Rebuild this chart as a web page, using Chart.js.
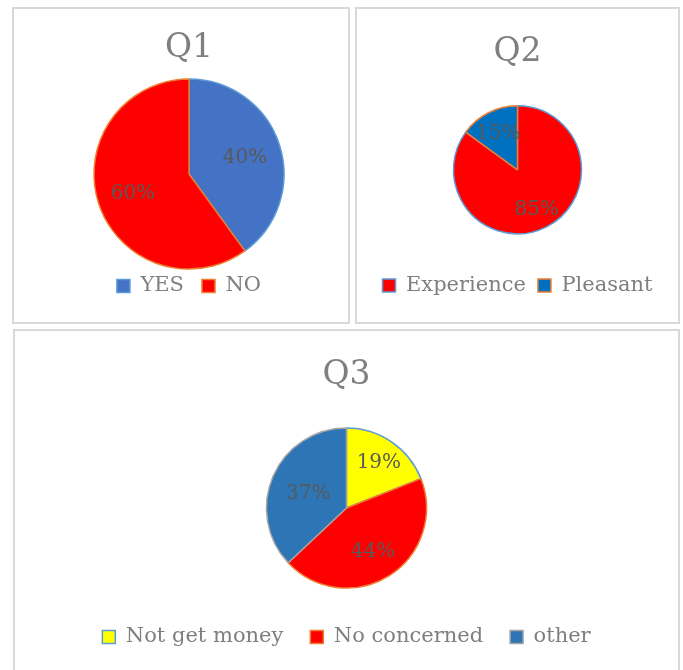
<!DOCTYPE html>
<html>
<head>
<meta charset="utf-8">
<script src="https://cdn.jsdelivr.net/npm/chart.js@4.4.1/dist/chart.umd.min.js"></script>
<style>
  html, body { margin: 0; padding: 0; background: #fff; overflow: hidden; }
  body { width: 683px; height: 670px; position: relative; }
  .box { position: absolute; box-sizing: border-box; border: 2px solid #d9d9d9; background: #fff; }
  .box canvas { position: absolute; left: 0; top: 0; }
</style>
</head>
<body>
<div class="box" style="left:12px; top:7px; width:338px; height:317px;">
  <canvas id="q1" width="334" height="313"></canvas>
</div>
<div class="box" style="left:355px; top:7px; width:325px; height:317px;">
  <canvas id="q2" width="321" height="313"></canvas>
</div>
<div class="box" style="left:13px; top:329px; width:667px; height:345px;">
  <canvas id="q3" width="663" height="339"></canvas>
</div>
<script>
// Q1
const q1Labels = ['YES', 'NO'];
const q1Values = [40, 60];
const q1Colors = ['#4472C4', '#FF0000'];
const q1Borders = ['#5B9BD5', '#ED7D31'];

// Q2
const q2Labels = ['Experience', 'Pleasant'];
const q2Values = [85, 15];
const q2Colors = ['#FF0000', '#0070C0'];
const q2Borders = ['#5B9BD5', '#ED7D31'];

// Q3
const q3Labels = ['Not get money', 'No concerned', 'other'];
const q3Values = [19, 44, 37];
const q3Colors = ['#FFFF00', '#FF0000', '#2E75B6'];
const q3Borders = ['#5B9BD5', '#ED7D31', '#A5A5A5'];

const serif = "'DejaVu Serif', 'Liberation Serif', serif";

// percentage labels inside the slices
const sliceLabels = {
    id: 'sliceLabels',
    afterDatasetsDraw(chart, args, opts) {
        const ctx = chart.ctx;
        const meta = chart.getDatasetMeta(0);
        const values = chart.data.datasets[0].data;
        ctx.save();
        ctx.font = '20px ' + serif;
        ctx.fillStyle = '#595959';
        ctx.textAlign = 'center';
        ctx.textBaseline = 'middle';
        meta.data.forEach((arc, i) => {
            const p = arc.getProps(['x', 'y', 'startAngle', 'endAngle', 'outerRadius']);
            const mid = (p.startAngle + p.endAngle) / 2;
            const f = Array.isArray(opts.pos) ? opts.pos[i] : opts.pos;
            const r = p.outerRadius * f;
            ctx.fillText(values[i] + '%', p.x + Math.cos(mid) * r, p.y + Math.sin(mid) * r + 2);
        });
        ctx.restore();
    }
};

function makePie(id, title, labels, values, colors, borders, s) {
    const ctx = document.getElementById(id).getContext('2d');
    return new Chart(ctx, {
        type: 'pie',
        data: {
            labels: labels,
            datasets: [{
                data: values,
                backgroundColor: colors,
                borderColor: borders,
                borderWidth: 1.5,
                radius: s.radius,
                clip: false
            }]
        },
        options: {
            responsive: false,
            animation: false,
            layout: { padding: { left: s.padLeft || 0, bottom: s.padBottom } },
            plugins: {
                title: {
                    display: true,
                    text: title,
                    color: '#7f7f7f',
                    font: { family: serif, size: 33, weight: 'normal', lineHeight: 1.2 },
                    padding: { top: s.titleTop, bottom: s.titleBottom }
                },
                legend: {
                    position: 'bottom',
                    labels: {
                        color: '#7f7f7f',
                        font: { family: serif, size: 21 },
                        boxWidth: 13,
                        boxHeight: 13,
                        padding: s.legendPad
                    }
                },
                tooltip: { enabled: false },
                sliceLabels: { pos: s.labelPos }
            }
        },
        plugins: [sliceLabels]
    });
}

makePie('q1', 'Q1', q1Labels, q1Values, q1Colors, q1Borders,
    { radius: 95, padLeft: 16, padBottom: 15.5, titleTop: 20, titleBottom: 22, legendPad: 18, labelPos: 0.62 });
makePie('q2', 'Q2', q2Labels, q2Values, q2Colors, q2Borders,
    { radius: 64, padBottom: 16, titleTop: 24, titleBottom: 4, legendPad: 12, labelPos: 0.66 });
makePie('q3', 'Q3', q3Labels, q3Values, q3Colors, q3Borders,
    { radius: 80, padBottom: 12.5, titleTop: 25, titleBottom: 21, legendPad: 27, labelPos: [0.72, 0.62, 0.52] });
</script>
</body>
</html>
